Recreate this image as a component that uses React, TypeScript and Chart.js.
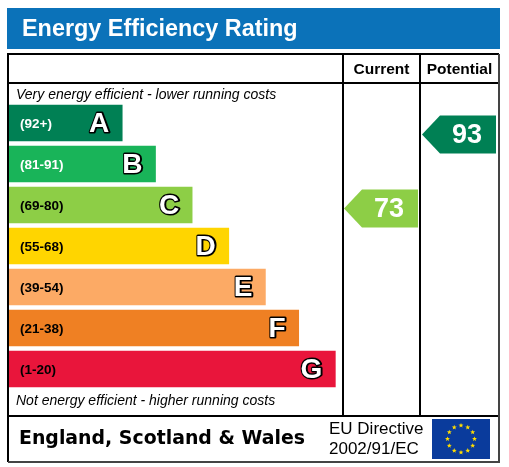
import React, { useEffect, useRef } from "react";
import { Chart, registerables } from "chart.js";

Chart.register(...registerables);

const categories = ["A", "B", "C", "D", "E", "F", "G"];
const rangeLabels = ["(92+)", "(81-91)", "(69-80)", "(55-68)", "(39-54)", "(21-38)", "(1-20)"];
const bandLow = [92, 81, 69, 55, 39, 21, 1];
const bandHigh = [100, 91, 80, 68, 54, 38, 20];
const barLengths = [34, 44, 55, 66, 77, 87, 98];
const barColors = ["#008054", "#19b459", "#8dce46", "#ffd500", "#fcaa65", "#ef8023", "#e9153b"];
const rangeLabelColors = ["#ffffff", "#ffffff", "#000000", "#000000", "#000000", "#000000", "#000000"];
const currentRating = 73;
const potentialRating = 93;
const titleText = "Energy Efficiency Rating";
const columnHeaders = ["Current", "Potential"];
const topNote = "Very energy efficient - lower running costs";
const bottomNote = "Not energy efficient - higher running costs";
const footerRegion = "England, Scotland & Wales";
const footerDirective = ["EU Directive", "2002/91/EC"];

const SANS = '"Liberation Sans", Arial, Helvetica, sans-serif';

function bandIndex(r: number) {
  for (let i = 0; i < bandLow.length; i++) {
    if (r >= bandLow[i] && r <= bandHigh[i]) return i;
  }
  return bandLow.length - 1;
}

const epcPlugin = {
  id: "epcFrame",
  beforeDraw(chart: any) {
    const ctx = chart.ctx;
    ctx.save();
    ctx.fillStyle = "#ffffff";
    ctx.fillRect(0, 0, chart.width, chart.height);
    // header band
    ctx.fillStyle = "#0b72b9";
    ctx.fillRect(7, 8, 493, 41);
    ctx.fillStyle = "#ffffff";
    ctx.font = `bold 23.4px ${SANS}`;
    ctx.textBaseline = "alphabetic";
    ctx.textAlign = "left";
    ctx.fillText(titleText, 22, 35.5);
    ctx.restore();
  },
  afterDatasetsDraw(chart: any) {
    const ctx = chart.ctx;
    const yScale = chart.scales.y;
    const meta = chart.getDatasetMeta(0);
    ctx.save();

    // frame lines
    ctx.strokeStyle = "#000000";
    ctx.lineWidth = 2;
    ctx.beginPath();
    ctx.moveTo(8, 462); ctx.lineTo(8, 54); ctx.lineTo(499, 54);
    ctx.moveTo(8, 83); ctx.lineTo(499, 83);
    ctx.moveTo(343, 54); ctx.lineTo(343, 416);
    ctx.moveTo(420, 54); ctx.lineTo(420, 416);
    ctx.moveTo(8, 416); ctx.lineTo(499, 416);
    ctx.stroke();
    ctx.strokeStyle = "#444444";
    ctx.beginPath();
    ctx.moveTo(499, 54); ctx.lineTo(499, 462); ctx.lineTo(8, 462);
    ctx.stroke();

    // column headers
    ctx.fillStyle = "#000000";
    ctx.font = `bold 15.5px ${SANS}`;
    ctx.textAlign = "center";
    ctx.textBaseline = "alphabetic";
    ctx.fillText(columnHeaders[0], 381.5, 74);
    ctx.fillText(columnHeaders[1], 459.5, 74);

    // notes
    ctx.font = `italic 14px ${SANS}`;
    ctx.textAlign = "left";
    ctx.fillText(topNote, 16, 99);
    ctx.fillText(bottomNote, 16, 405);

    // range labels and letters
    meta.data.forEach((bar: any, i: number) => {
      const cy = bar.y;
      ctx.font = `bold 13.5px ${SANS}`;
      ctx.textAlign = "left";
      ctx.textBaseline = "middle";
      ctx.fillStyle = rangeLabelColors[i];
      ctx.fillText(rangeLabels[i], 20, cy + 1);

      ctx.font = `bold 28px ${SANS}`;
      ctx.textAlign = "right";
      ctx.textBaseline = "middle";
      ctx.lineJoin = "round";
      ctx.lineWidth = 3;
      ctx.strokeStyle = "#000000";
      const lx = bar.x - 13;
      ctx.strokeText(categories[i], lx + 0.5, cy + 1.5);
      ctx.fillStyle = "#ffffff";
      ctx.fillText(categories[i], lx, cy + 1);
    });

    // arrows
    const pitch = yScale.height / categories.length;
    const drawArrow = (rating: number, colLeft: number, colRight: number) => {
      const i = bandIndex(rating);
      const center = yScale.getPixelForValue(i);
      const bottom = center + pitch / 2;
      const f = (rating - bandLow[i] + 1) / (bandHigh[i] - bandLow[i] + 1);
      const y = bottom - f * pitch;
      const h = 19;
      const tip = colLeft + 1;
      const bodyL = tip + 18;
      const right = colRight - 2;
      ctx.fillStyle = barColors[i];
      ctx.beginPath();
      ctx.moveTo(tip, y);
      ctx.lineTo(bodyL, y - h);
      ctx.lineTo(right, y - h);
      ctx.lineTo(right, y + h);
      ctx.lineTo(bodyL, y + h);
      ctx.closePath();
      ctx.fill();
      ctx.fillStyle = "#ffffff";
      ctx.font = `bold 27px ${SANS}`;
      ctx.textAlign = "center";
      ctx.textBaseline = "middle";
      ctx.fillText(String(rating), (bodyL + right) / 2 - 1, y + 1);
    };
    drawArrow(currentRating, 343, 420);
    drawArrow(potentialRating, 421, 498);

    // footer
    ctx.fillStyle = "#000000";
    ctx.textAlign = "left";
    ctx.textBaseline = "alphabetic";
    ctx.font = `bold 19px "DejaVu Sans", Verdana, sans-serif`;
    const w = ctx.measureText(footerRegion).width;
    ctx.save();
    ctx.translate(19, 444);
    ctx.scale(286 / w, 1);
    ctx.fillText(footerRegion, 0, 0);
    ctx.restore();

    ctx.font = `17px ${SANS}`;
    ctx.fillText(footerDirective[0], 329, 434);
    ctx.fillText(footerDirective[1], 329, 454);

    // EU flag
    ctx.fillStyle = "#0a3b9c";
    ctx.fillRect(432, 419, 58, 40);
    ctx.fillStyle = "#ffdd00";
    const fcx = 461, fcy = 439, fr = 13.5;
    for (let k = 0; k < 12; k++) {
      const a = (k / 12) * Math.PI * 2;
      const sx = fcx + fr * Math.cos(a);
      const sy = fcy + fr * Math.sin(a);
      ctx.beginPath();
      for (let p = 0; p < 10; p++) {
        const rr = p % 2 === 0 ? 2.6 : 1.1;
        const aa = -Math.PI / 2 + (p * Math.PI) / 5;
        const px = sx + rr * Math.cos(aa);
        const py = sy + rr * Math.sin(aa);
        if (p === 0) ctx.moveTo(px, py); else ctx.lineTo(px, py);
      }
      ctx.closePath();
      ctx.fill();
    }

    ctx.restore();
  },
};

export default function App() {
  const canvasRef = useRef<HTMLCanvasElement | null>(null);

  useEffect(() => {
    if (!canvasRef.current) return;
    const chart = new Chart(canvasRef.current, {
      type: "bar",
      data: {
        labels: categories,
        datasets: [
          {
            data: barLengths,
            backgroundColor: barColors,
            borderWidth: 0,
            barThickness: 36,
          },
        ],
      },
      options: {
        indexAxis: "y",
        responsive: false,
        animation: false,
        layout: { padding: { left: 9, right: 167, top: 102.5, bottom: 77.5 } },
        scales: {
          x: { display: false, min: 0, max: 100 },
          y: { display: false },
        },
        plugins: {
          legend: { display: false },
          tooltip: { enabled: false },
        },
      },
      plugins: [epcPlugin],
    } as any);
    return () => chart.destroy();
  }, []);

  return (
    <div style={{ position: "fixed", left: 0, top: 0, width: 509, height: 467, background: "#fff" }}>
      <canvas ref={canvasRef} width={509} height={467} />
    </div>
  );
}
